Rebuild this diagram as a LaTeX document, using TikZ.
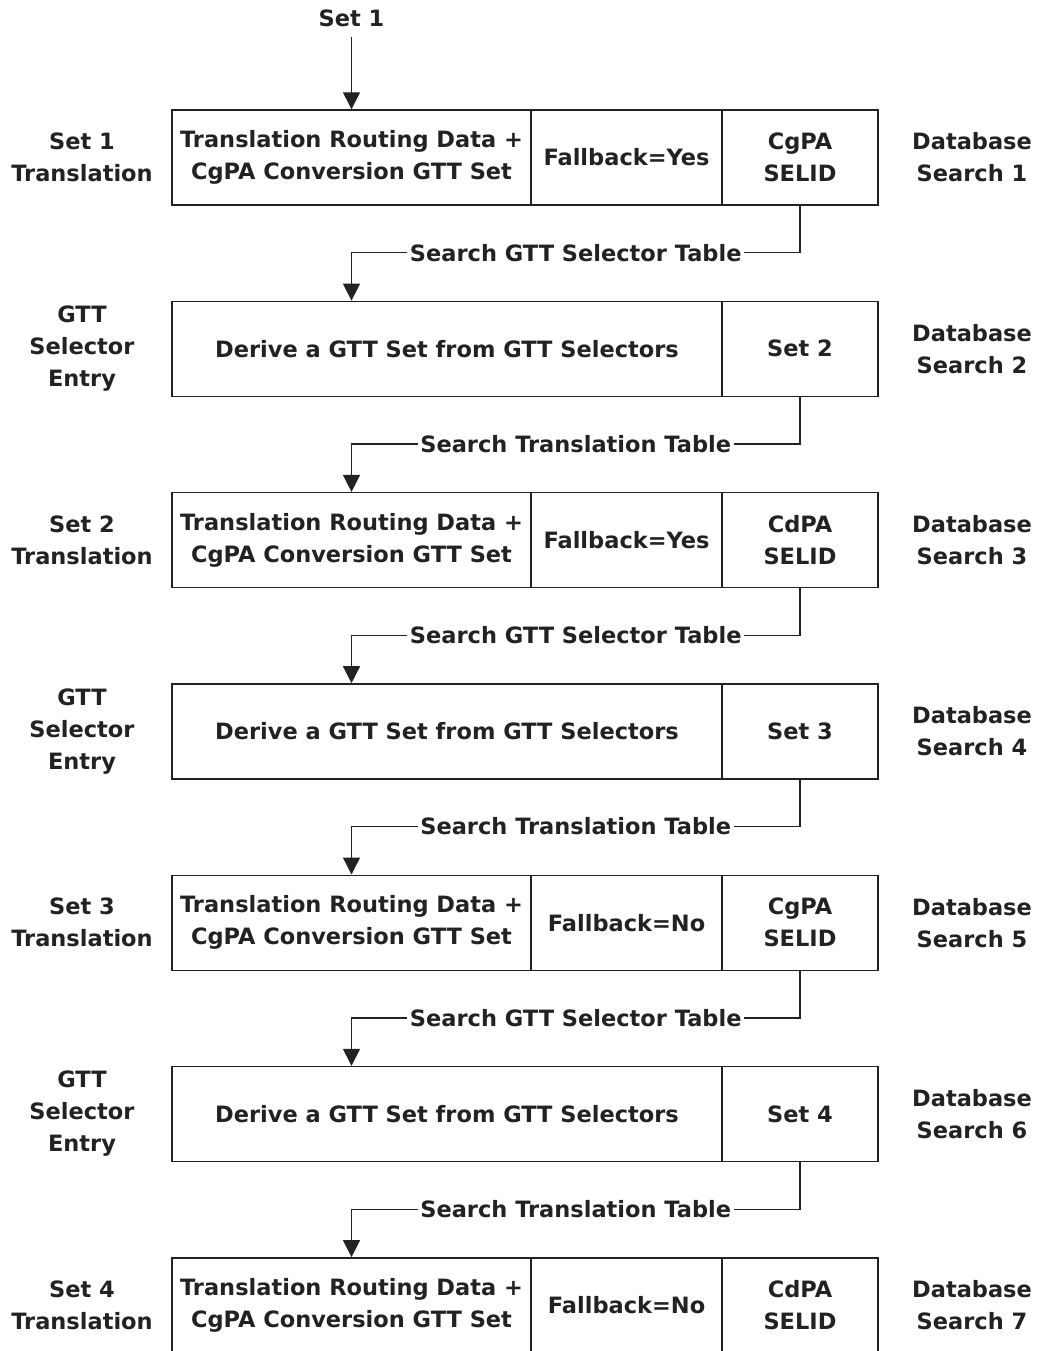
\documentclass[tikz,border=0pt]{standalone}
\usepackage{tikz}
\usepackage{fontspec}
\setmainfont{DejaVu Sans}
\usetikzlibrary{arrows.meta,calc}
\definecolor{ink}{HTML}{222222}

\begin{document}
\begin{tikzpicture}[
    txt/.style={font=\bfseries\fontsize{12.8}{18.2}\selectfont, text=ink, align=center, inner sep=0pt},
    cell/.style={txt, draw=ink, line width=0.8pt, minimum height=1.9cm},
    lbl/.style={txt, fill=white, inner xsep=1.5pt, inner ysep=3pt},
    flow/.style={draw=ink, line width=0.8pt, -{Triangle[length=0.34cm, width=0.34cm]}}
]
    \useasboundingbox (0,0) rectangle (20.92,-27.02);
    \clip (0,0) rectangle (20.92,-27.02);
    \node[txt] (top) at (7.03,-0.36) {Set 1};
    % translation rows
    \foreach \i/\fb/\pa/\s/\db in {1/Yes/CgPA/1/1, 3/Yes/CdPA/2/3, 5/No/CgPA/3/5, 7/No/CdPA/4/7} {
        \pgfmathsetmacro{\y}{-3.15-(\i-1)*3.826}
        \node[cell, minimum width=7.18cm] (a\i) at (7.03,\y) {Translation Routing Data +\\CgPA Conversion GTT Set};
        \node[cell, minimum width=3.82cm] (b\i) at (12.53,\y) {Fallback=\fb};
        \node[cell, minimum width=3.12cm] (c\i) at (16.0,\y) {\pa\\SELID};
        \node[txt] (n\i) at (1.64,\y) {Set \s\\Translation};
        \node[txt] (d\i) at (19.44,\y) {Database\\Search \db};
    }
    % selector rows
    \foreach \i/\s in {2/2, 4/3, 6/4} {
        \pgfmathsetmacro{\y}{-3.15-(\i-1)*3.826}
        \node[cell, minimum width=11cm] (a\i) at (8.94,\y) {Derive a GTT Set from GTT Selectors};
        \node[cell, minimum width=3.12cm] (c\i) at (16.0,\y) {Set \s};
        \node[txt] (n\i) at (1.64,\y) {GTT\\Selector\\Entry};
        \node[txt] (d\i) at (19.44,\y) {Database\\Search \i};
    }
    \draw[flow, shorten <=0.2cm] (top) -- (a1);
    \foreach \i/\t in {1/Search GTT Selector Table, 2/Search Translation Table,
                       3/Search GTT Selector Table, 4/Search Translation Table,
                       5/Search GTT Selector Table, 6/Search Translation Table} {
        \pgfmathtruncatemacro{\j}{\i+1}
        \draw[flow] (c\i.south) -- ++(0,-0.94) -| node[lbl, pos=0.25] (s\i) {\t} (a1 |- a\j.north);
    }
\end{tikzpicture}
\end{document}
